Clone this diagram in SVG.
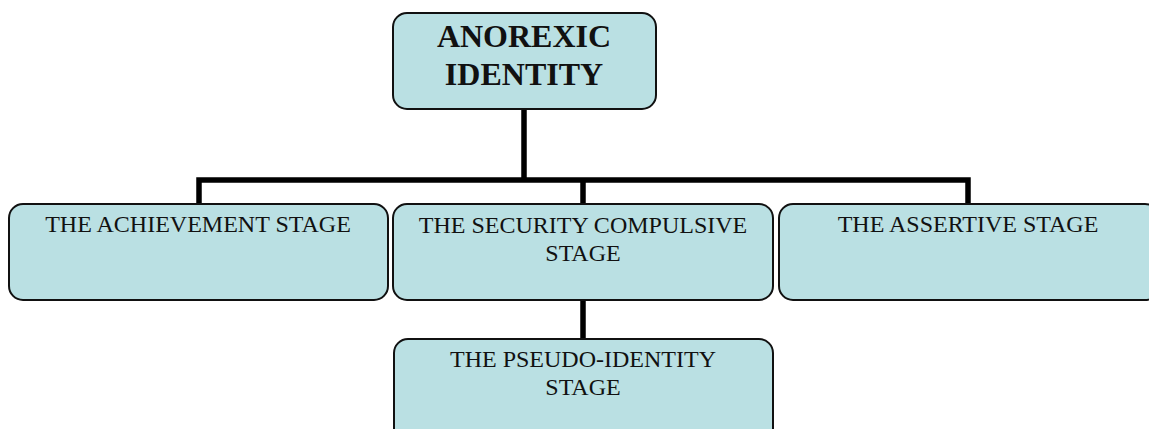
<svg xmlns="http://www.w3.org/2000/svg" width="1149" height="429" viewBox="0 0 1149 429">
<style>
.box{fill:#bae0e3;stroke:#111;stroke-width:2}
.t{font-family:"Liberation Serif","Times New Roman",serif;font-size:24px;fill:#111;text-anchor:middle}
.tb{font-family:"Liberation Serif","Times New Roman",serif;font-size:32px;font-weight:bold;fill:#111;text-anchor:middle}
.c{fill:none;stroke:#000;stroke-width:5.5}
</style>
<rect width="1149" height="429" fill="#fff"/>
<g id="connectors">
<path class="c" d="M524 109V180M199 204V180H968V204M583 180V204M583 300V339"/>
</g>
<g id="anorexic-identity">
<rect class="box" x="393" y="13" width="263" height="96" rx="14"/>
<text class="tb" x="524" y="47">ANOREXIC</text>
<text class="tb" x="524" y="85">IDENTITY</text>
</g>
<g id="achievement">
<rect class="box" x="9" y="204" width="379" height="96" rx="14"/>
<text class="t" x="198" y="232">THE ACHIEVEMENT STAGE</text>
</g>
<g id="security">
<rect class="box" x="393" y="204" width="380" height="96" rx="14"/>
<text class="t" x="583" y="233">THE SECURITY COMPULSIVE</text>
<text class="t" x="583" y="261">STAGE</text>
</g>
<g id="assertive">
<rect class="box" x="779" y="204" width="380" height="96" rx="14"/>
<text class="t" x="968" y="232">THE ASSERTIVE STAGE</text>
</g>
<g id="pseudo-identity">
<rect class="box" x="394" y="339" width="379" height="110" rx="14"/>
<text class="t" x="583" y="367">THE PSEUDO-IDENTITY</text>
<text class="t" x="583" y="395">STAGE</text>
</g>
</svg>
